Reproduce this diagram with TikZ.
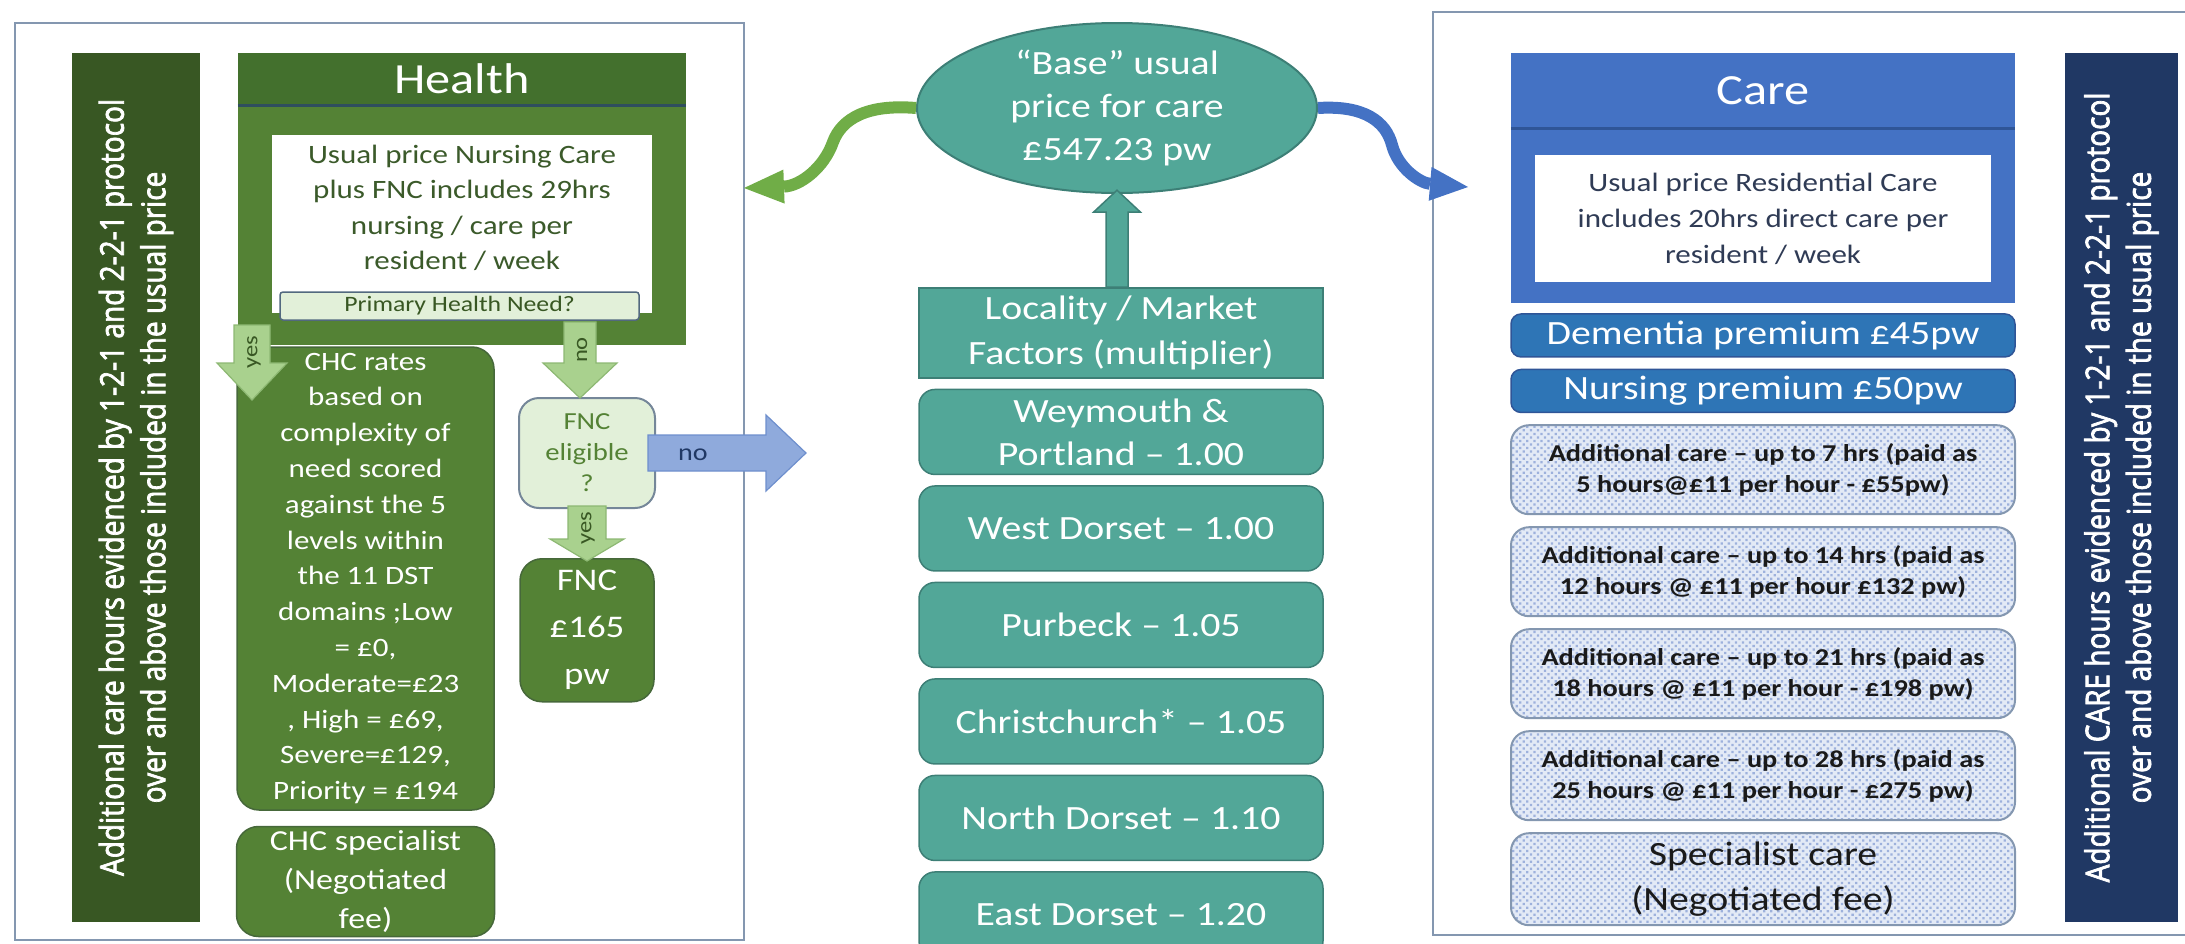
\documentclass[tikz,border=0pt]{standalone}
\usepackage{fontspec}
\setmainfont{Carlito}[FakeStretch=1.17]
\newfontfamily\barfont{Open Sans}[FakeBold=2.5]
\usepackage{xcolor}
\usepackage{tikz}
\usetikzlibrary{
  arrows.meta,
  patterns.meta,
  positioning,
  shapes.geometric
}
\definecolor{framegray}{HTML}{8497B0}
\definecolor{darkgreen}{HTML}{385723}
\definecolor{headgreen}{HTML}{43702D}
\definecolor{midgreen}{HTML}{548235}
\definecolor{edgegreen}{HTML}{46683A}
\definecolor{lightgreen}{HTML}{A9D18E}
\definecolor{lgedge}{HTML}{8DB873}
\definecolor{palegreen}{HTML}{E2F0D9}
\definecolor{notegreen}{HTML}{3B5A2A}
\definecolor{hsep}{HTML}{2F4E5E}
\definecolor{slateedge}{HTML}{52697F}
\definecolor{arrowgreen}{HTML}{70AD47}
\definecolor{tealfill}{HTML}{52A798}
\definecolor{tealedge}{HTML}{3D7F76}
\definecolor{careblue}{HTML}{4472C4}
\definecolor{careedge}{HTML}{2F5597}
\definecolor{premblue}{HTML}{2E75B6}
\definecolor{navy}{HTML}{203864}
\definecolor{noblue}{HTML}{8FAADC}
\definecolor{noedge}{HTML}{6E8FCD}
\definecolor{dotbg}{HTML}{E3EAF6}
\definecolor{dotfg}{HTML}{9DB1DC}
\definecolor{carenote}{HTML}{2F3B55}
\definecolor{addtext}{HTML}{1A1A1A}

\begin{document}
\begin{tikzpicture}[x=1pt, y=1pt,
    every node/.style={inner sep=0pt, align=center, text=white},
    frame/.style={draw=framegray, line width=2.5pt},
    sidebar/.style={rotate=90, yscale=1.17, minimum width=869pt, font=\barfont\fontsize{28}{35.5}\selectfont},
    hbody/.style={fill=midgreen, minimum width=448pt, minimum height=292pt},
    hhead/.style={fill=headgreen, minimum width=448pt, minimum height=52pt, font=\fontsize{43}{50}\selectfont},
    sepline/.style={line width=3pt},
    notebox/.style={fill=white},
    notetext/.style={font=\fontsize{26.5}{35.5}\selectfont},
    phnbox/.style={fill=palegreen, draw=slateedge, line width=1.5pt, rounded corners=3pt, minimum width=359pt, minimum height=28pt, text=darkgreen, font=\fontsize{22}{24}\selectfont},
    greenbox/.style={fill=midgreen, draw=edgegreen, line width=1.5pt, rounded corners=22pt},
    eligbox/.style={fill=palegreen, draw=slateedge!80, line width=2pt, rounded corners=20pt, minimum width=136pt, minimum height=110pt, text=midgreen, font=\fontsize{24.5}{31}\selectfont},
    gblock/.style={fill=lightgreen, draw=lgedge, line width=1.2pt},
    bblock/.style={fill=noblue, draw=noedge, line width=1.2pt},
    tblock/.style={fill=tealfill, draw=tealedge, line width=1.5pt},
    arrowtext/.style={text=darkgreen, font=\fontsize{21}{24}\selectfont},
    gcurve/.style={draw=arrowgreen, line width=12pt, -{Triangle[length=40pt, width=34pt, line width=0pt]}},
    bcurve/.style={draw=careblue, line width=12pt, -{Triangle[length=38pt, width=34pt, line width=0pt]}},
    basebox/.style={ellipse, fill=tealfill, draw=tealedge, line width=2pt, minimum width=400pt, minimum height=170pt},
    locbox/.style={fill=tealfill, draw=tealedge, line width=1.5pt, minimum width=404pt, minimum height=90pt, font=\fontsize{34}{45}\selectfont},
    distbox/.style={locbox, rounded corners=16pt, minimum height=85pt, font=\fontsize{34}{43}\selectfont},
    cbody/.style={fill=careblue, minimum width=504pt, minimum height=250pt},
    chead/.style={fill=careblue, minimum width=504pt, minimum height=75pt, font=\fontsize{43}{50}\selectfont},
    prembox/.style={fill=premblue, draw=careedge, line width=1.5pt, rounded corners=10pt, minimum width=504pt, minimum height=43pt, font=\fontsize{34}{40}\selectfont},
    addbox/.style={draw=framegray, line width=2pt, rounded corners=18pt, preaction={fill=dotbg}, pattern={Dots[distance=5pt, radius=1.6pt, angle=45]}, pattern color=dotfg, minimum width=504pt, minimum height=89pt, text=addtext, font=\bfseries\fontsize{24.2}{31}\selectfont},
    specbox/.style={addbox, minimum height=92pt, font=\fontsize{34}{45}\selectfont}]
\useasboundingbox (0,0) rectangle (2185,-943);

\draw[frame] (15,-23) rectangle (744,-940);
\draw[frame] (2195,-12) -- (1433,-12) -- (1433,-935) -- (2195,-935);

\node[sidebar, fill=darkgreen, minimum height=109.4pt] (hside) at (136,-487.5) {Additional care hours evidenced by 1-2-1 and 2-2-1 protocol\\over and above those included in the usual price};

\node[hbody] (health) at (462,-199) {};
\node[hhead, below=0pt of health.north] (hhead) {Health};
\draw[sepline, draw=hsep] (hhead.south west) -- (hhead.south east);
\node[notebox, minimum width=380pt, minimum height=178pt] (hwhite) at (462,-224) {};
\node[notetext, text=notegreen] (hnote) at (462,-208) {Usual price Nursing Care\\plus FNC includes 29hrs\\nursing / care per\\resident / week};
\node[phnbox] (phn) at (459.5,-306) {Primary Health Need?};

\node[greenbox, minimum width=257pt, minimum height=463pt, font=\fontsize{26.5}{35.8}\selectfont] (chc) at (365.5,-578.5) {CHC rates\\based on\\complexity of\\need scored\\against the 5\\levels within\\the 11 DST\\domains ;Low\\= £0,\\Moderate=£23\\, High = £69,\\Severe=£129,\\Priority = £194};
\node[greenbox, below=15pt of chc, minimum width=258pt, minimum height=110pt, font=\fontsize{29}{39}\selectfont] (chcspec) {CHC specialist\\(Negotiated\\fee)};
\node[eligbox] (fnce) at (587,-453) {FNC\\eligible\\?};
\node[greenbox, below=49pt of fnce, minimum width=134pt, minimum height=143pt, font=\fontsize{31.5}{47}\selectfont] (fnc) {FNC\\£165\\pw};

\coordinate (yes1top) at (252,-325);
\coordinate (no1top) at (580,-322);
\draw[gblock] (yes1top) -- ++(18,0) -- ++(0,-38) -- ++(17,0) -- ++(-35,-37) -- ++(-35,37) -- ++(17,0) -- ++(0,38) -- cycle;
\node[arrowtext, rotate=90] (yes1) at (254,-352) {yes};
\draw[gblock] (no1top) -- ++(16,0) -- ++(0,-41) -- ++(21,0) -- ++(-37,-35) -- ++(-37,35) -- ++(21,0) -- ++(0,41) -- cycle;
\node[arrowtext, rotate=90] (no1) at (582,-350) {no};
\draw[gblock] ([yshift=3pt]fnce.south) -- ++(19,0) -- ++(0,-33) -- ++(18,0) -- ++(-37,-22) -- ++(-37,22) -- ++(18,0) -- ++(0,33) -- cycle;
\node[arrowtext, rotate=90] (yes2) at (588,-528) {yes};
\draw[bblock] ([xshift=-8pt]fnce.east) -- ++(0,18) -- ++(118,0) -- ++(0,20) -- ++(40,-38) -- ++(-40,-38) -- ++(0,20) -- ++(-118,0) -- cycle;
\node[arrowtext, text=navy, font=\fontsize{24}{26}\selectfont] (no2) at (693,-455) {no};

\node[basebox] (base) at (1117,-108) {};
\node[font=\fontsize{34}{43}\selectfont] (basetext) at (base) {“Base” usual\\price for care\\£547.23 pw};

\matrix (loccol) [matrix anchor=north, row sep=10pt] at (1121,-287) {
\node[locbox] (loc) {Locality / Market\\Factors (multiplier)}; \\
\node[distbox] (wey) {Weymouth \&\\Portland – 1.00}; \\
\node[distbox] (wdor) {West Dorset – 1.00}; \\
\node[distbox] (purb) {Purbeck – 1.05}; \\
\node[distbox] (chch) {Christchurch* – 1.05}; \\
\node[distbox] (ndor) {North Dorset – 1.10}; \\
\node[distbox] (edor) {East Dorset – 1.20}; \\
};
\draw[tblock] (loc.north -| base.south) -- ++(11,0) -- ++(0,75) -- ++(12.5,0) -- ++(-23.5,22) -- ++(-23.5,-22) -- ++(12.5,0) -- ++(0,-75) -- cycle;

\node[cbody] (care) at (1763,-178) {};
\node[chead, below=0pt of care.north] (chead) {Care};
\draw[sepline, draw=careedge] (chead.south west) -- (chead.south east);
\node[notebox, minimum width=456pt, minimum height=127pt, text=carenote, font=\fontsize{26.5}{36}\selectfont] (cnote) at (1763,-218.5) {Usual price Residential Care\\includes 20hrs direct care per\\resident / week};

\matrix (carecol) [matrix anchor=north, row sep=11pt] at (1763,-313) {
\node[prembox] (dem) {Dementia premium £45pw}; \\
\node[prembox] (nurs) {Nursing premium £50pw}; \\
\node[addbox] (add7) {Additional care – up to 7 hrs (paid as\\5 hours@£11 per hour - £55pw)}; \\
\node[addbox] (add14) {Additional care – up to 14 hrs (paid as\\12 hours @ £11 per hour £132 pw)}; \\
\node[addbox] (add21) {Additional care – up to 21 hrs (paid as\\18 hours @ £11 per hour - £198 pw)}; \\
\node[addbox] (add28) {Additional care – up to 28 hrs (paid as\\25 hours @ £11 per hour - £275 pw)}; \\
\node[specbox] (spec) {Specialist care\\(Negotiated fee)}; \\
};

\node[sidebar, fill=navy, minimum height=96.6pt] (cside) at (2121.5,-487.5) {Additional CARE hours evidenced by 1-2-1 and 2-2-1 protocol\\over and above those included in the usual price};

\coordinate (htip) at (744,-188);
\coordinate (btip) at (1468,-187);
\draw[gcurve] (base.west) .. controls (868,-104) and (842,-118) .. (833,-142) .. controls (824,-168) and (800,-186) .. (htip);
\draw[bcurve] (base.east) .. controls (1365,-105) and (1386,-122) .. (1392,-145) .. controls (1398,-168) and (1420,-183) .. (btip);
\end{tikzpicture}
\end{document}
